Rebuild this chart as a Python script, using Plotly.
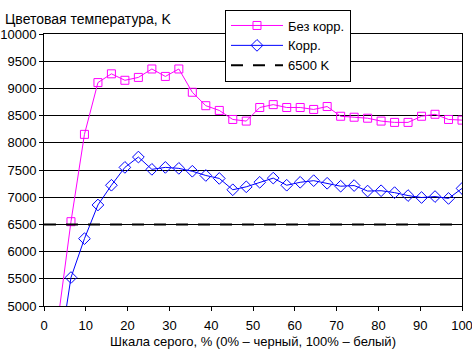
import numpy as np
import plotly.graph_objects as go

# Gray-scale steps, % (32 levels from black to white)
gray_pct = [i * 100 / 31 for i in range(32)]

# Colour temperature without correction, K (first two levels fall below the axis)
temp_uncorr = [np.nan, 4670, 6550, 8155, 9107, 9268, 9149, 9202, 9357, 9220,
               9357, 8929, 8682, 8595, 8429, 8399, 8649, 8702, 8649, 8649,
               8613, 8667, 8488, 8470, 8452, 8399, 8375, 8375, 8488, 8524,
               8429, 8417]

# Colour temperature with correction, K
temp_corr = [np.nan, 3900, 5523, 6238, 6857, 7220, 7548, 7738, 7512, 7548,
             7530, 7477, 7399, 7345, 7137, 7191, 7274, 7351, 7220, 7274,
             7304, 7256, 7202, 7214, 7113, 7119, 7084, 7030, 6994, 7012,
             6977, 7161]

reference_temp = 6500
x_ticks = list(range(0, 101, 10))
y_ticks = list(range(5000, 10001, 500))
y_tick_text = [str(v) for v in y_ticks]

FONT = "Liberation Sans, Arial, sans-serif"

fig = go.Figure()
fig.add_trace(go.Scatter(
    x=gray_pct, y=temp_uncorr, name="Без корр.", mode="lines+markers",
    line=dict(color="#FF00FF", width=1),
    marker=dict(symbol="square-open", size=8, color="#FF00FF", line=dict(width=1)),
    cliponaxis=True,
))
fig.add_trace(go.Scatter(
    x=gray_pct, y=temp_corr, name="Корр.", mode="lines+markers",
    line=dict(color="#0000FF", width=1),
    marker=dict(symbol="diamond-open", size=9, color="#0000FF", line=dict(width=1)),
    cliponaxis=True,
))
fig.add_trace(go.Scatter(
    x=[0, 100], y=[reference_temp, reference_temp], name="6500 K", mode="lines",
    line=dict(color="black", width=2, dash="12px,10px"),
))

fig.update_layout(
    width=472, height=349,
    margin=dict(l=44, r=10, t=26, b=43),
    paper_bgcolor="white", plot_bgcolor="white",
    font=dict(family=FONT, size=13, color="black"),
    showlegend=True,
    legend=dict(
        x=0.433, y=1.09, xanchor="left", yanchor="top",
        bgcolor="white", bordercolor="black", borderwidth=1,
        font=dict(family=FONT, size=13),
        itemwidth=52, tracegroupgap=0,
    ),
    annotations=[dict(
        text="Цветовая температура, K", xref="paper", yref="paper",
        x=-0.097, y=1.0, xanchor="left", yanchor="bottom", yshift=5,
        showarrow=False, font=dict(family=FONT, size=14),
    )],
)

fig.update_xaxes(
    range=[0, 100], tickvals=x_ticks, showgrid=False, zeroline=False,
    showline=True, linecolor="black", linewidth=1, mirror=True,
    ticks="outside", ticklen=4, tickcolor="black", ticklabelstandoff=3,
    ticklabeloverflow="allow",
    title=dict(text="Шкала серого, % (0% – черный, 100% – белый)",
               font=dict(family=FONT, size=13), standoff=6),
    tickfont=dict(family=FONT, size=13), automargin=False,
)
fig.update_yaxes(
    range=[5000, 10000], tickvals=y_ticks, ticktext=y_tick_text,
    showgrid=True, gridcolor="black", gridwidth=1, zeroline=False,
    showline=True, linecolor="black", linewidth=1, mirror=True,
    ticks="outside", ticklen=4, tickcolor="black", ticklabeloverflow="allow",
    tickfont=dict(family=FONT, size=13), automargin=False,
)

fig.write_html("out.html")
